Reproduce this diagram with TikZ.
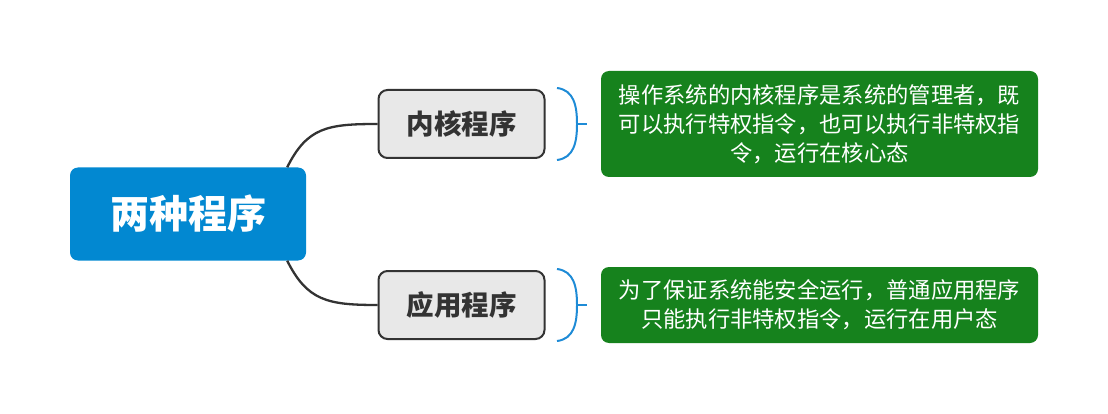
\documentclass[tikz,border=0pt]{standalone}
\usepackage{fontspec}
\newfontfamily\cjk{Noto Sans CJK SC}
\definecolor{rootblue}{HTML}{0288D1}
\definecolor{boxgrey}{HTML}{E8E8E8}
\definecolor{darkline}{HTML}{333333}
\definecolor{notegreen}{HTML}{16821D}
\definecolor{braceblue}{HTML}{1E8BD6}
\begin{document}
\begin{tikzpicture}[x=1pt,y=-1pt,
  rootbox/.style={fill=rootblue, rounded corners=8pt, minimum width=236pt, minimum height=93pt, inner sep=0pt, text=white, font=\cjk\bfseries\fontsize{39}{42}\selectfont},
  subbox/.style={fill=boxgrey, draw=darkline, line width=2pt, rounded corners=9pt, minimum width=166pt, minimum height=68pt, inner sep=0pt, text=darkline, font=\cjk\bfseries\fontsize{27.5}{30}\selectfont},
  notebox/.style={fill=notegreen, rounded corners=8pt, minimum width=437pt, inner sep=0pt, text=white, align=center, font=\cjk\fontsize{22.3}{29}\selectfont},
  link/.style={draw=darkline, line width=2.3pt},
  bracepath/.style={draw=braceblue, line width=2pt}
]
\useasboundingbox (0,0) rectangle (1108,414);
\node[rootbox] (root) at (188,214) {两种程序};
\node[subbox] (kern) at (461.5,124) {内核程序};
\node[subbox] (app) at (461.5,305) {应用程序};
\node[notebox, minimum height=106pt] (n1) at (819.5,124) {操作系统的内核程序是系统的管理者，既\\可以执行特权指令，也可以执行非特权指\\令，运行在核心态};
\node[notebox, minimum height=76pt] (n2) at (819.5,305) {为了保证系统能安全运行，普通应用程序\\只能执行非特权指令，运行在用户态};
% connectors
\coordinate (rt) at ([xshift=-19pt]root.north east);
\coordinate (rb) at ([xshift=-19pt]root.south east);
\draw[link] (rt) .. controls +(20,-40) and +(-50,0) .. (kern.west);
\draw[link] (rb) .. controls +(20,40) and +(-50,0) .. (app.west);
% braces
\coordinate (b1t) at (557,88);
\coordinate (b1m) at (577,124);
\coordinate (b1b) at (557,160);
\coordinate (b1e) at (587,124);
\draw[bracepath] (b1t) .. controls (574,90) and (577,106) .. (b1m) .. controls (577,142) and (574,158) .. (b1b);
\draw[bracepath] (b1m) -- (b1e);
\coordinate (b2t) at (557,269);
\coordinate (b2m) at (577,305);
\coordinate (b2b) at (557,341);
\coordinate (b2e) at (587,305);
\draw[bracepath] (b2t) .. controls (574,271) and (577,287) .. (b2m) .. controls (577,323) and (574,339) .. (b2b);
\draw[bracepath] (b2m) -- (b2e);
\end{tikzpicture}
\end{document}
